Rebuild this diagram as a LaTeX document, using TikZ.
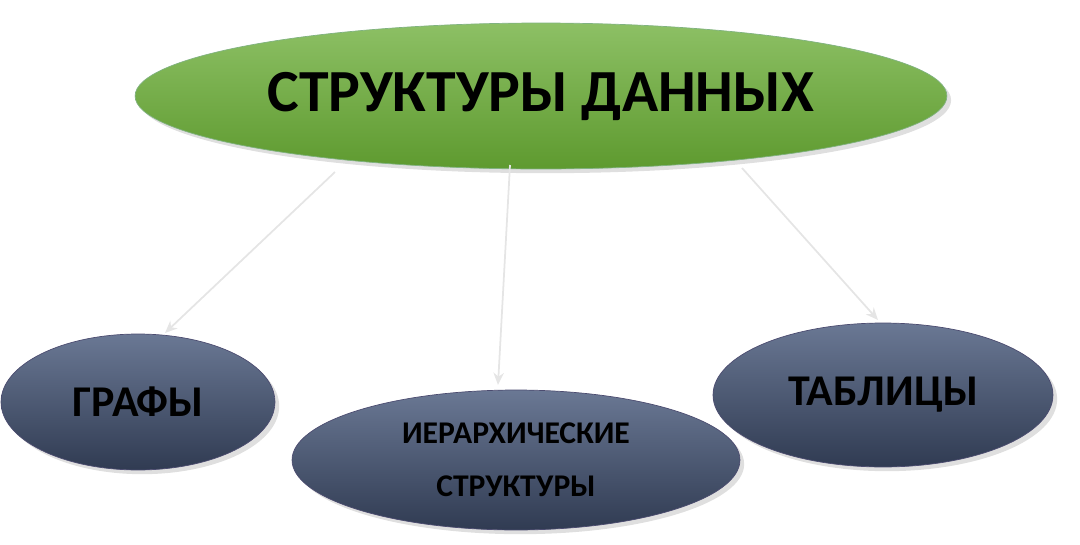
\documentclass[tikz,border=0pt]{standalone}
\usepackage{fontspec}
\setmainfont{Carlito}
\usetikzlibrary{shapes.geometric,arrows.meta,shadows}
\begin{document}
\begin{tikzpicture}[x=0.02cm,y=-0.02cm,
  topnode/.style={ellipse,minimum width=812\pgflinewidth*0+16.24cm,minimum height=2.92cm,
    top color=green!45!black!20!lime!60!olive!70!white!100, bottom color=green!50!black!60!lime!80,
    draw=green!40!black!50,font=\bfseries\fontsize{34}{38}\selectfont,drop shadow={opacity=0.25}},
  subnode/.style={ellipse,top color=blue!15!black!45!white!100,bottom color=blue!20!black!75,
    draw=blue!20!black!70,font=\bfseries,align=center,drop shadow={opacity=0.25}},
  conn/.style={draw=black!10,line width=1pt,-{Stealth[length=7pt,width=6pt]}}]
\useasboundingbox (0,0) rectangle (1080,545);
\definecolor{gtop}{HTML}{8DC065}\definecolor{gbot}{HTML}{5E9A2F}
\definecolor{btop}{HTML}{6A7894}\definecolor{bbot}{HTML}{303B52}
\node[topnode,top color=gtop,bottom color=gbot] (top) at (541,96) {СТРУКТУРЫ ДАННЫХ};
\node[subnode,top color=btop,bottom color=bbot,minimum width=5.48cm,minimum height=2.72cm,font=\bfseries\fontsize{25}{28}\selectfont] (g) at (138,402) {ГРАФЫ};
\node[subnode,top color=btop,bottom color=bbot,minimum width=8.96cm,minimum height=2.8cm,font=\bfseries\fontsize{18}{30}\selectfont] (h) at (516,460) {ИЕРАРХИЧЕСКИЕ\\СТРУКТУРЫ};
\node[subnode,top color=btop,bottom color=bbot,minimum width=6.8cm,minimum height=2.88cm,font=\bfseries\fontsize{25}{28}\selectfont] (t) at (883,395) {ТАБЛИЦЫ};
\coordinate (a1) at (335,172);\coordinate (a2) at (510,165);\coordinate (a3) at (742,168);
\coordinate (b1) at (165,333);\coordinate (b2) at (498,385);\coordinate (b3) at (878,320);
\draw[conn] (a1) -- (b1);
\draw[conn] (a2) -- (b2);
\draw[conn] (a3) -- (b3);
\end{tikzpicture}
\end{document}
